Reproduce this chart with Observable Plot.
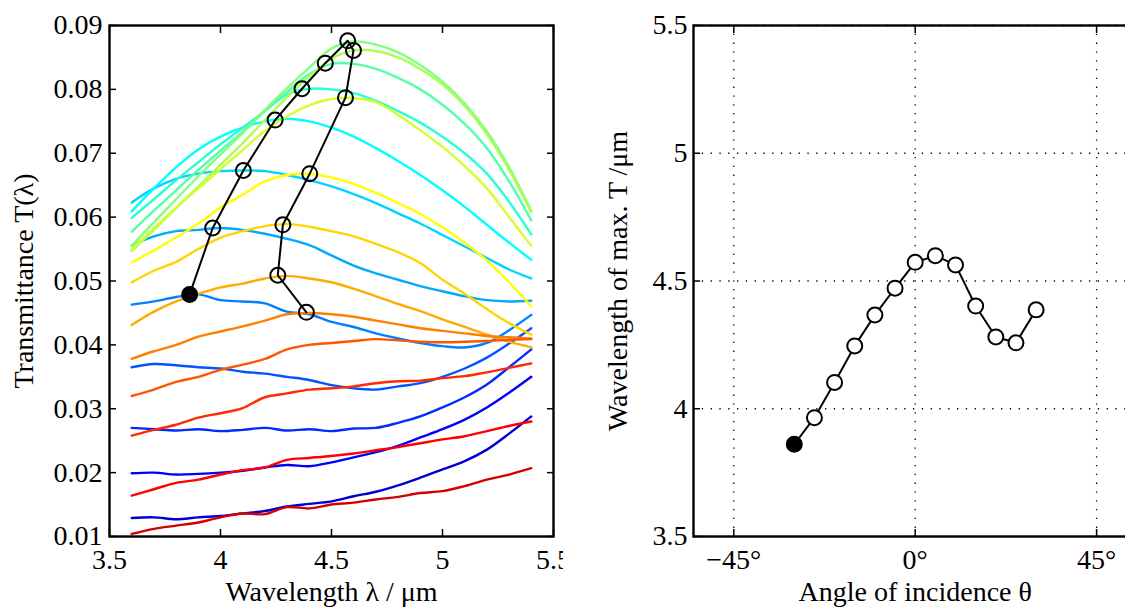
<!DOCTYPE html>
<html>
<head>
<meta charset="utf-8">
<script src="https://cdn.jsdelivr.net/npm/d3@7"></script>
<script src="https://cdn.jsdelivr.net/npm/@observablehq/plot@0.6"></script>
<style>
  html, body { margin: 0; padding: 0; background: #fff; overflow: hidden; }
  #wrap { position: relative; width: 1125px; height: 608px; overflow: hidden; background: #fff; }
  #left, #right { position: absolute; top: 0; }
  #left { left: 0; width: 563px; }
  #right { left: 563px; width: 600px; }
  svg { max-width: none !important; }
</style>
</head>
<body>
<div id="wrap"><div id="left"></div><div id="right"></div></div>
<script>
// ---------- data ----------
const wavelengths = [3.6, 3.7, 3.8, 3.9, 4.0, 4.1, 4.2, 4.3, 4.4, 4.5, 4.6, 4.7, 4.8, 4.9, 5.0, 5.1, 5.2, 5.3, 5.4];
const angles = [-50, -45, -40, -35, -30, -25, -20, -15, -10, -5, 0, 5, 10, 15, 20, 25, 30, 35, 40, 45, 50];

// transmittance spectra, in units of 1e-3, one per angle of incidence
const T_n50 = [12.9, 13.0, 12.7, 13.0, 13.2, 13.6, 14.0, 14.7, 15.1, 15.5, 16.3, 17.0, 18.0, 19.2, 20.5, 21.8, 23.6, 26.1, 28.8];
const T_n45 = [19.9, 20.0, 19.7, 19.8, 20.0, 20.3, 20.8, 21.2, 21.0, 21.6, 22.4, 23.2, 24.2, 25.5, 26.8, 28.3, 30.2, 32.5, 35.0];
const T_n40 = [27.0, 26.8, 26.6, 26.8, 26.5, 26.7, 27.0, 26.6, 26.8, 26.5, 26.9, 27.0, 27.8, 28.8, 30.2, 31.8, 33.8, 36.5, 39.3];
const T_n35 = [36.5, 37.0, 36.8, 36.5, 36.3, 35.8, 35.5, 35.0, 34.5, 33.7, 33.2, 33.0, 33.5, 34.0, 35.0, 36.3, 38.0, 40.2, 42.6];
const T_n30 = [46.3, 46.8, 47.5, 47.9, 47.0, 46.8, 46.5, 45.2, 44.8, 43.6, 42.8, 41.8, 41.0, 40.3, 39.8, 39.6, 40.3, 42.3, 44.7];
const T_n25 = [55.6, 57.0, 57.8, 58.0, 58.3, 58.0, 57.4, 56.6, 55.6, 54.0, 52.4, 51.2, 50.2, 49.2, 48.4, 47.6, 47.0, 46.8, 46.9];
const T_n20 = [62.3, 64.5, 66.0, 66.8, 67.2, 67.3, 67.2, 66.6, 65.8, 64.8, 63.6, 62.2, 60.6, 59.0, 57.2, 55.4, 53.6, 51.8, 50.4];
const T_n15 = [60.9, 64.5, 67.8, 70.6, 72.6, 74.0, 75.0, 75.4, 75.0, 74.0, 72.6, 70.8, 68.8, 66.6, 64.2, 61.6, 58.8, 56.0, 53.3];
const T_n10 = [59.9, 62.8, 65.8, 68.6, 71.4, 74.0, 76.6, 79.2, 80.1, 80.0, 79.4, 78.2, 76.6, 74.8, 72.6, 70.0, 66.8, 62.4, 57.3];
const T_n5  = [57.7, 61.0, 64.2, 67.4, 70.4, 73.4, 76.6, 79.6, 82.4, 84.0, 84.0, 83.2, 81.8, 80.0, 77.6, 74.6, 70.8, 65.6, 59.5];
const T_0   = [55.5, 59.2, 62.8, 66.4, 69.8, 73.2, 76.8, 80.2, 83.4, 86.4, 87.5, 87.0, 85.8, 83.8, 81.2, 77.8, 73.4, 67.8, 61.0];
const T_p5  = [54.7, 58.0, 61.4, 64.8, 68.2, 71.6, 75.2, 78.8, 82.0, 84.8, 86.1, 86.0, 85.0, 83.2, 80.8, 77.4, 73.0, 67.4, 60.8];
const T_p10 = [55.0, 58.3, 61.5, 64.5, 67.5, 70.5, 73.5, 75.8, 77.5, 78.5, 78.6, 78.0, 76.0, 73.6, 71.0, 68.0, 64.5, 60.0, 55.5];
const T_p15 = [52.9, 54.8, 56.8, 59.0, 61.5, 63.5, 65.6, 66.6, 66.8, 66.2, 65.2, 63.8, 62.2, 60.5, 58.4, 56.0, 53.2, 49.8, 46.0];
const T_p20 = [49.8, 51.6, 53.0, 55.0, 56.8, 57.8, 58.6, 58.9, 58.5, 57.8, 57.0, 55.8, 54.5, 52.8, 50.2, 48.0, 45.6, 43.4, 41.6];
const T_p25 = [43.1, 45.2, 46.8, 48.0, 49.0, 49.6, 50.4, 50.8, 50.4, 49.8, 48.8, 47.6, 46.4, 45.3, 44.0, 42.8, 41.6, 40.5, 39.6];
const T_p30 = [37.8, 39.0, 40.0, 41.3, 42.1, 42.9, 43.8, 44.8, 45.0, 44.8, 44.4, 43.8, 43.2, 42.6, 42.2, 41.8, 41.4, 41.2, 41.0];
const T_p35 = [32.0, 33.0, 34.2, 35.0, 36.1, 36.9, 37.8, 39.3, 40.0, 40.3, 40.6, 40.9, 40.7, 40.5, 40.4, 40.5, 40.6, 40.8, 40.9];
const T_p40 = [25.8, 26.7, 27.5, 28.6, 29.3, 30.1, 31.8, 32.4, 33.0, 33.2, 33.5, 34.0, 34.3, 34.4, 34.8, 35.1, 35.7, 36.4, 37.1];
const T_p45 = [16.4, 17.4, 18.4, 18.9, 19.7, 20.4, 20.8, 22.0, 22.3, 22.6, 23.0, 23.5, 24.0, 24.6, 25.2, 25.7, 26.5, 27.3, 28.0];
const T_p50 = [10.4, 11.2, 11.7, 12.2, 13.0, 13.6, 13.5, 14.6, 14.4, 15.0, 15.3, 15.8, 16.2, 16.8, 17.1, 17.9, 18.9, 19.7, 20.7];

// maxima of the spectra that have one
const peakAngles = [-30, -25, -20, -15, -10, -5, 0, 5, 10, 15, 20, 25, 30];
const peakWavelength = [3.861, 3.965, 4.103, 4.246, 4.367, 4.472, 4.573, 4.599, 4.563, 4.402, 4.281, 4.258, 4.387];
const peakT = [0.0479, 0.0583, 0.0673, 0.0752, 0.0801, 0.0841, 0.0876, 0.0861, 0.0787, 0.0668, 0.0588, 0.0509, 0.0451];

// tick labels
const leftXTicks = [3.5, 4, 4.5, 5, 5.5];
const leftYTicks = [0.01, 0.02, 0.03, 0.04, 0.05, 0.06, 0.07, 0.08, 0.09];
const rightXTicks = [-45, 0, 45];
const rightYTicks = [3.5, 4, 4.5, 5, 5.5];

// ---------- styles ----------
const jetPalette = ["#0000d4", "#0000ff", "#002aff", "#0055ff", "#0080ff", "#00aaff", "#00d4ff", "#00ffff",
  "#2affd4", "#55ffaa", "#80ff80", "#aaff55", "#d4ff2a", "#ffff00", "#ffd400", "#ffaa00", "#ff8000",
  "#ff5500", "#ff2a00", "#ff0000", "#d40000"];
const FONT = "Liberation Serif, Times New Roman, serif";
const FS = "28px";

// ---------- tables ----------
const spectraList = [T_n50, T_n45, T_n40, T_n35, T_n30, T_n25, T_n20, T_n15, T_n10, T_n5, T_0,
  T_p5, T_p10, T_p15, T_p20, T_p25, T_p30, T_p35, T_p40, T_p45, T_p50];
const spectra = [];
spectraList.forEach((arr, i) => arr.forEach((v, j) => spectra.push({angle: angles[i], wl: wavelengths[j], T: v / 1000})));
const peaks = peakAngles.map((a, i) => ({angle: a, wl: peakWavelength[i], T: peakT[i], first: i === 0}));

const inTicks = (axis, anchor, ticks) => (axis === "x" ? Plot.axisX : Plot.axisY)(ticks,
  {anchor, tickSize: -7, strokeWidth: 1.5, fill: "none", label: null});

const baseStyle = {fontFamily: FONT, fontSize: FS, color: "black", background: "white", overflow: "visible", maxWidth: "none"};

// ---------- left panel ----------
const left = Plot.plot({
  width: 563, height: 608,
  marginLeft: 109, marginRight: 10, marginTop: 25, marginBottom: 72,
  style: baseStyle,
  x: {domain: [3.5, 5.5]},
  y: {domain: [0.01, 0.09]},
  color: {type: "ordinal", domain: angles, range: jetPalette},
  marks: [
    Plot.line(spectra, {x: "wl", y: "T", z: "angle", stroke: "angle", strokeWidth: 2.4, curve: "catmull-rom"}),
    Plot.line(peaks, {x: "wl", y: "T", stroke: "black", strokeWidth: 2}),
    Plot.dot(peaks, {x: "wl", y: "T", r: 7.5, stroke: "black", strokeWidth: 2, fill: d => d.first ? "black" : "none"}),
    Plot.frame({stroke: "black", strokeWidth: 2.4}),
    inTicks("x", "bottom", leftXTicks), inTicks("x", "top", leftXTicks),
    inTicks("y", "left", leftYTicks), inTicks("y", "right", leftYTicks),
    Plot.axisX(leftXTicks, {anchor: "bottom", tickSize: 0, tickPadding: 13, fontSize: FS, tickFormat: d => String(d),
      label: "Wavelength λ / μm", labelAnchor: "center", labelOffset: 64, labelArrow: "none"}),
    Plot.axisY(leftYTicks, {anchor: "left", tickSize: 0, tickPadding: 7, fontSize: FS, tickFormat: d3.format(".2f"),
      label: "Transmittance T(λ)", labelAnchor: "center", labelOffset: 96, labelArrow: "none"})
  ]
});
document.getElementById("left").appendChild(left);

// ---------- right panel ----------
const right = Plot.plot({
  width: 600, height: 608,
  marginLeft: 130, marginRight: 26.6, marginTop: 25, marginBottom: 72,
  style: baseStyle,
  x: {domain: [-55, 55]},
  y: {domain: [3.5, 5.5]},
  marks: [
    Plot.gridX(rightXTicks, {stroke: "black", strokeOpacity: 1, strokeWidth: 1.3, strokeDasharray: "1.3,7.5"}),
    Plot.gridY(rightYTicks, {stroke: "black", strokeOpacity: 1, strokeWidth: 1.3, strokeDasharray: "1.3,7.5"}),
    Plot.line(peaks, {x: "angle", y: "wl", stroke: "black", strokeWidth: 2}),
    Plot.dot(peaks, {x: "angle", y: "wl", r: 7.5, stroke: "black", strokeWidth: 2, fill: d => d.first ? "black" : "white"}),
    Plot.frame({stroke: "black", strokeWidth: 2.4}),
    inTicks("x", "bottom", rightXTicks), inTicks("x", "top", rightXTicks),
    inTicks("y", "left", rightYTicks),
    Plot.axisX(rightXTicks, {anchor: "bottom", tickSize: 0, tickPadding: 13, fontSize: FS,
      tickFormat: d => (d < 0 ? "\u2212" : "") + Math.abs(d) + "°",
      label: "Angle of incidence θ", labelAnchor: "center", labelOffset: 64, labelArrow: "none"}),
    Plot.axisY(rightYTicks, {anchor: "left", tickSize: 0, tickPadding: 6, fontSize: FS, tickFormat: d => String(d),
      label: "Wavelength of max. T /μm", labelAnchor: "center", labelOffset: 86, labelArrow: "none"})
  ]
});
document.getElementById("right").appendChild(right);
</script>
</body>
</html>
